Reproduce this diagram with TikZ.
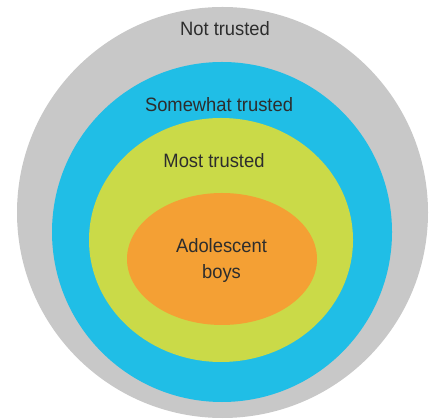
\documentclass[tikz,border=0pt]{standalone}
\usepackage{fontspec}
\setmainfont{Liberation Sans}[FakeStretch=0.95]
\usepackage{xcolor}
\usepackage{tikz}
\usetikzlibrary{calc}

\definecolor{grigio}{RGB}{200,200,200}
\definecolor{azzurro}{RGB}{32,190,230}
\definecolor{verdino}{RGB}{202,218,72}
\definecolor{arancio}{RGB}{244,160,52}
\definecolor{testo}{RGB}{45,45,45}

\begin{document}
\begin{tikzpicture}

% Stile per le etichette
\tikzset{etichetta/.style={text=testo, font=\fontsize{11}{15.3}\selectfont, inner sep=0pt, align=center}}

% Margini della figura
\useasboundingbox (0,0) rectangle (8.70,8.38);

% --- Anelli concentrici ---
\fill[grigio]  (4.45,4.13) circle (4.11cm);
\fill[azzurro] (4.44,3.74) circle (3.40cm);
\fill[verdino] (4.42,3.58) ellipse (2.64cm and 2.44cm);
\fill[arancio] (4.44,3.20) ellipse (1.90cm and 1.32cm);

% --- Etichette ---
\node[etichetta] (nontrusted) at (4.50,7.80) {Not trusted};
\node[etichetta] (somewhat)   at (4.38,6.28) {Somewhat trusted};
\node[etichetta] (most)       at (4.28,5.16) {Most trusted};
\node[etichetta] (boys)       at (4.43,3.17) {Adolescent\\boys};

\end{tikzpicture}
\end{document}
